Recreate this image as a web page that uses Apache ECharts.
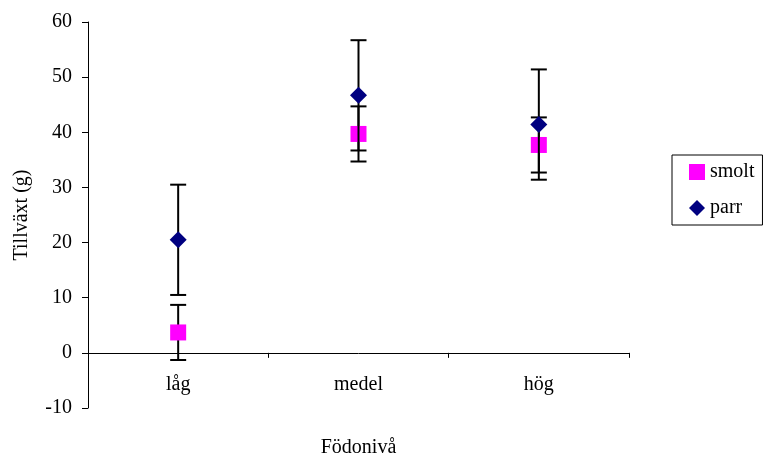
<!DOCTYPE html>
<html><head><meta charset="utf-8">
<script src="https://cdn.jsdelivr.net/npm/echarts@6/dist/echarts.min.js"></script>
<style>html,body{margin:0;padding:0;background:#fff}#c{width:763px;height:455px}</style>
</head><body><div id="c"></div>
<script>
var categories = ['låg', 'medel', 'hög'];
var smoltValues = [3.7, 39.7, 37.7];
var smoltErrors = [5, 5, 5];
var parrValues = [20.5, 46.7, 41.4];
var parrErrors = [10, 10, 10];
var yTicks = [-10, 0, 10, 20, 30, 40, 50, 60];

var FONT = '"Liberation Serif", "Times New Roman", serif';

function errData(vals, errs) {
  return vals.map(function (v, i) { return [i, v - errs[i], v + errs[i]]; });
}
function renderErr(params, api) {
  var x = api.value(0);
  var lo = api.coord([x, api.value(1)]);
  var hi = api.coord([x, api.value(2)]);
  var hw = 8;
  var style = { stroke: '#000', lineWidth: 2 };
  return {
    type: 'group',
    children: [
      { type: 'line', shape: { x1: hi[0], y1: hi[1], x2: lo[0], y2: lo[1] }, style: style },
      { type: 'line', shape: { x1: hi[0] - hw, y1: hi[1], x2: hi[0] + hw, y2: hi[1] }, style: style },
      { type: 'line', shape: { x1: lo[0] - hw, y1: lo[1], x2: lo[0] + hw, y2: lo[1] }, style: style }
    ]
  };
}

var chart = echarts.init(document.getElementById('c'), null, { renderer: 'canvas' });
chart.setOption({
  animation: false,
  backgroundColor: '#fff',
  textStyle: { fontFamily: FONT },
  grid: { left: 88, right: 134, top: 22, bottom: 47, containLabel: false, outerBoundsMode: 'none' },
  legend: {
    orient: 'vertical',
    left: 672, top: 155,
    padding: [7, 8, 7, 17],
    itemGap: 16,
    itemWidth: 16, itemHeight: 16,
    borderColor: '#000', borderWidth: 1, borderRadius: 0,
    textStyle: { fontFamily: FONT, fontSize: 20, color: '#000' },
    data: [{ name: 'smolt', icon: 'rect' }, { name: 'parr', icon: 'diamond' }]
  },
  xAxis: {
    type: 'category',
    data: categories,
    boundaryGap: true,
    name: 'Födonivå',
    nameLocation: 'middle',
    nameGap: 30,
    nameMoveOverlap: false,
    nameTextStyle: { fontFamily: FONT, fontSize: 20, color: '#000' },
    axisLine: { onZero: true, lineStyle: { color: '#000', width: 1 } },
    axisTick: { show: true, length: 5, lineStyle: { color: '#000' } },
    axisLabel: { fontFamily: FONT, fontSize: 20, color: '#000', margin: -33 },
    splitLine: { show: false }
  },
  yAxis: {
    type: 'value',
    min: yTicks[0], max: yTicks[yTicks.length - 1], interval: 10,
    name: 'Tillväxt (g)',
    nameLocation: 'middle',
    nameGap: 56,
    nameTextStyle: { fontFamily: FONT, fontSize: 20, color: '#000' },
    axisLine: { show: true, lineStyle: { color: '#000', width: 1 } },
    axisTick: { show: true, length: 6, lineStyle: { color: '#000' } },
    axisLabel: { fontFamily: FONT, fontSize: 20, color: '#000', margin: 16 },
    splitLine: { show: false }
  },
  series: [
    { name: 'smoltErr', type: 'custom', renderItem: renderErr, data: errData(smoltValues, smoltErrors), z: 1, encode: { x: 0, y: [1, 2] } },
    { name: 'smolt', type: 'scatter', symbol: 'rect', symbolSize: 16, itemStyle: { color: '#FF00FF', opacity: 1 }, data: smoltValues, z: 2 },
    { name: 'parrErr', type: 'custom', renderItem: renderErr, data: errData(parrValues, parrErrors), z: 3, encode: { x: 0, y: [1, 2] } },
    { name: 'parr', type: 'scatter', symbol: 'diamond', symbolSize: 17, itemStyle: { color: '#000080', opacity: 1 }, data: parrValues, z: 4 }
  ]
});
</script></body></html>
